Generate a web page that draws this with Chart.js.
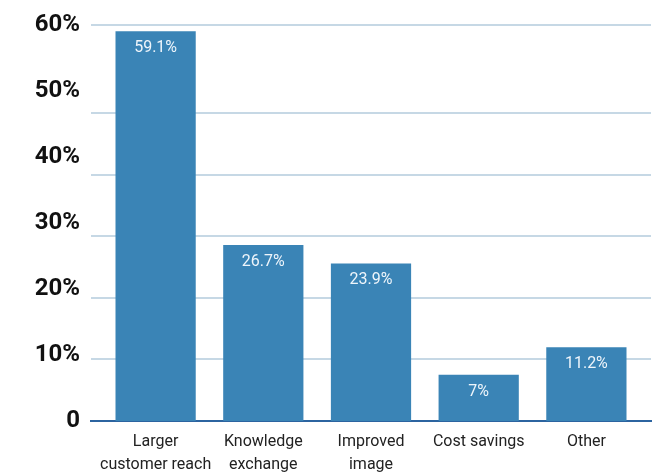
<!DOCTYPE html>
<html>
<head>
<meta charset="utf-8">
<script src="https://cdn.jsdelivr.net/npm/chart.js@4/dist/chart.umd.min.js"></script>
<style>
  html, body { margin: 0; padding: 0; background: #ffffff; }
  #wrap { width: 666px; height: 475px; }
</style>
</head>
<body>
<div id="wrap"><canvas id="c" width="666" height="475"></canvas></div>
<script>
const categories = [['Larger', 'customer reach'], ['Knowledge', 'exchange'], ['Improved', 'image'], ['Cost savings'], ['Other']];
const values = [59.1, 26.7, 23.9, 7, 11.2];
const yTicks = [0, 10, 20, 30, 40, 50, 60];
const gridValues = [10, 20, 30, 40, 50, 64.3];

const valueLabels = {
  id: 'valueLabels',
  afterDatasetsDraw(chart) {
    const ctx = chart.ctx;
    const meta = chart.getDatasetMeta(0);
    ctx.save();
    ctx.font = '16px Roboto';
    ctx.fillStyle = '#eef5fb';
    ctx.textAlign = 'center';
    ctx.textBaseline = 'middle';
    meta.data.forEach((bar, i) => {
      ctx.fillText(values[i] + '%', bar.x, bar.y + 17);
    });
    ctx.restore();
  }
};

new Chart(document.getElementById('c'), {
  type: 'bar',
  data: {
    datasets: [{
      data: values.map((v, i) => ({ x: i, y: v })),
      backgroundColor: '#3a84b6',
      borderWidth: 0,
      barPercentage: 0.745,
      categoryPercentage: 1
    }]
  },
  options: {
    responsive: false,
    animation: false,
    devicePixelRatio: 1,
    layout: { padding: { left: 0, right: 15, top: 21, bottom: 0 } },
    plugins: { legend: { display: false }, tooltip: { enabled: false } },
    scales: {
      x: {
        type: 'linear',
        min: -0.6,
        max: 4.6,
        offset: false,
        afterBuildTicks: s => { s.ticks = categories.map((c, i) => ({ value: i })); },
        afterFit: s => { s.height = 54; },
        grid: { display: false, drawTicks: false, offset: false },
        border: { display: true, color: '#2c64a0', width: 2 },
        ticks: {
          callback: (v) => categories[v],
          color: '#222222',
          font: { family: 'Roboto', size: 16, lineHeight: 1.4 },
          padding: 10,
          maxRotation: 0,
          autoSkip: false
        }
      },
      y: {
        min: 0,
        max: 60,
        afterBuildTicks: s => { s.ticks = yTicks.map(v => ({ value: v })); },
        afterFit: s => { s.width = 91; },
        grid: { display: false, drawTicks: false },
        border: { display: false },
        ticks: {
          callback: v => v === 0 ? '0' : v + '%',
          color: '#111111',
          font: { family: 'Roboto', size: 24, weight: 'bold' },
          padding: 11
        }
      },
      y2: {
        position: 'right',
        min: 0,
        max: 64.3,
        afterBuildTicks: s => { s.ticks = gridValues.map(v => ({ value: v })); },
        afterFit: s => { s.width = 0; },
        grid: { display: true, color: '#c6d8e5', lineWidth: 2, drawTicks: false },
        border: { display: false },
        ticks: { display: false }
      }
    }
  },
  plugins: [valueLabels]
});
</script>
</body>
</html>
